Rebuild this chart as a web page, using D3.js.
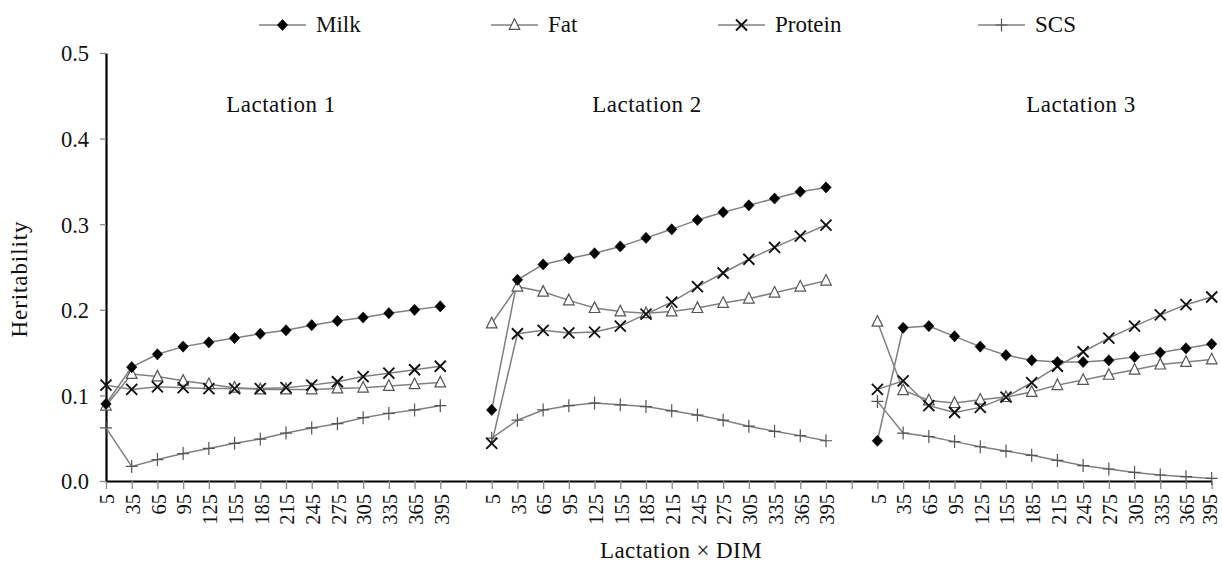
<!DOCTYPE html>
<html>
<head>
<meta charset="utf-8">
<script src="https://cdn.jsdelivr.net/npm/d3@7/dist/d3.min.js"></script>
<style>
  html, body { margin: 0; padding: 0; background: #fff; }
  svg { display: block; }
  text { font-family: "Liberation Serif", "Times New Roman", serif; fill: #111; }
</style>
</head>
<body>
<svg id="chart" width="1222" height="565"></svg>
<script>
// ---------------- data ----------------
const lactations = ["Lactation 1", "Lactation 2", "Lactation 3"];
const dims = [5, 35, 65, 95, 125, 155, 185, 215, 245, 275, 305, 335, 365, 395];
const seriesNames = ["Milk", "Fat", "Protein", "SCS"];
const yTicks = [0, 0.1, 0.2, 0.3, 0.4, 0.5];

const milk1 = [0.090, 0.133, 0.148, 0.157, 0.162, 0.167, 0.172, 0.176, 0.182, 0.187, 0.191, 0.196, 0.200, 0.204];
const milk2 = [0.083, 0.235, 0.253, 0.260, 0.266, 0.274, 0.284, 0.294, 0.305, 0.314, 0.322, 0.330, 0.338, 0.343];
const milk3 = [0.047, 0.179, 0.181, 0.169, 0.157, 0.147, 0.141, 0.139, 0.139, 0.141, 0.145, 0.150, 0.155, 0.160];

const fat1 = [0.088, 0.125, 0.122, 0.117, 0.113, 0.109, 0.107, 0.107, 0.107, 0.108, 0.109, 0.111, 0.113, 0.115];
const fat2 = [0.184, 0.227, 0.221, 0.211, 0.202, 0.198, 0.196, 0.198, 0.202, 0.208, 0.213, 0.220, 0.227, 0.234];
const fat3 = [0.186, 0.106, 0.094, 0.091, 0.095, 0.098, 0.104, 0.112, 0.118, 0.124, 0.130, 0.136, 0.139, 0.142];

const protein1 = [0.112, 0.107, 0.110, 0.109, 0.108, 0.108, 0.108, 0.109, 0.112, 0.116, 0.122, 0.126, 0.130, 0.134];
const protein2 = [0.044, 0.172, 0.176, 0.173, 0.174, 0.181, 0.195, 0.209, 0.227, 0.243, 0.259, 0.273, 0.286, 0.299];
const protein3 = [0.107, 0.117, 0.088, 0.080, 0.086, 0.098, 0.115, 0.134, 0.151, 0.167, 0.181, 0.194, 0.206, 0.215];

const scs1 = [0.062, 0.017, 0.025, 0.032, 0.038, 0.044, 0.049, 0.056, 0.062, 0.067, 0.074, 0.079, 0.083, 0.088];
const scs2 = [0.050, 0.071, 0.083, 0.088, 0.091, 0.089, 0.087, 0.082, 0.077, 0.071, 0.064, 0.058, 0.053, 0.047];
const scs3 = [0.093, 0.056, 0.052, 0.046, 0.040, 0.035, 0.030, 0.024, 0.018, 0.014, 0.010, 0.007, 0.005, 0.003];

const seriesValues = {
  Milk: [milk1, milk2, milk3],
  Fat: [fat1, fat2, fat3],
  Protein: [protein1, protein2, protein3],
  SCS: [scs1, scs2, scs3]
};

// ---------------- layout ----------------
const svg = d3.select("#chart");
const X0 = 106, X1 = 1211.7, Y0 = 481, Y1 = 53;

// category keys: 14 per lactation, with one empty slot between lactations
const keys = [];
const keyLabel = {};
lactations.forEach((lac, li) => {
  if (li > 0) { const g = "gap" + li; keys.push(g); keyLabel[g] = ""; }
  dims.forEach(d => { const k = li + "-" + d; keys.push(k); keyLabel[k] = String(d); });
});
const lastKey = keys[keys.length - 1];

const x = d3.scalePoint().domain(keys).range([X0, X1]);
const y = d3.scaleLinear().domain([0, 0.5]).range([Y0, Y1]);

// ---------------- axes ----------------
const xAxis = svg.append("g")
  .attr("transform", `translate(0,${Y0})`)
  .call(d3.axisBottom(x).tickSize(8).tickSizeOuter(0).tickFormat(k => keyLabel[k]));
xAxis.select(".domain").attr("stroke", "#000").attr("stroke-width", 2.2);
xAxis.selectAll(".tick line").attr("stroke", "#8a8a8a").attr("stroke-width", 1.3);
xAxis.selectAll(".tick text")
  .attr("font-size", 20.5)
  .attr("font-family", "Liberation Serif, serif")
  .attr("fill", "#111")
  .attr("transform", "rotate(-90)")
  .attr("text-anchor", "end")
  .attr("x", -13)
  .attr("y", 0)
  .attr("dy", k => k === lastKey ? "4.5px" : "0.38em");

const yAxis = svg.append("g")
  .attr("transform", `translate(${X0},0)`)
  .call(d3.axisLeft(y).tickValues(yTicks).tickSize(6).tickSizeOuter(0).tickFormat(d3.format(".1f")));
yAxis.select(".domain").attr("stroke", "#000").attr("stroke-width", 2.2);
yAxis.selectAll(".tick line").attr("stroke", "#8a8a8a").attr("stroke-width", 1.3);
yAxis.selectAll(".tick text")
  .attr("font-size", 22.5)
  .attr("font-family", "Liberation Serif, serif")
  .attr("fill", "#111")
  .attr("x", -17)
  .attr("dy", "0.35em");

// axis titles
svg.append("text")
  .attr("transform", `translate(27,279) rotate(-90)`)
  .attr("text-anchor", "middle")
  .attr("font-size", 23)
  .attr("letter-spacing", 0.9)
  .text("Heritability");

svg.append("text")
  .attr("x", 681).attr("y", 558)
  .attr("text-anchor", "middle")
  .attr("font-size", 23)
  .attr("letter-spacing", 0.4)
  .text("Lactation × DIM");

// panel labels
const panelLabelX = [281, 647, 1081];
lactations.forEach((lac, li) => {
  svg.append("text")
    .attr("x", panelLabelX[li]).attr("y", 112)
    .attr("text-anchor", "middle")
    .attr("font-size", 23)
    .attr("letter-spacing", 0.5)
    .text(lac);
});

// ---------------- markers ----------------
const markerDraw = {
  Milk: (g) => g.append("path").attr("d", "M0,-5.6L5.2,0L0,5.6L-5.2,0Z").attr("fill", "#000").attr("stroke", "#000").attr("stroke-width", 0.6),
  Fat: (g) => g.append("path").attr("d", "M0,-6.2L5.3,4.4L-5.3,4.4Z").attr("fill", "#fff").attr("stroke", "#555").attr("stroke-width", 1.2),
  Protein: (g) => g.append("path").attr("d", "M-5.5,-5.5L5.5,5.5M-5.5,5.5L5.5,-5.5").attr("fill", "none").attr("stroke", "#111").attr("stroke-width", 1.9),
  SCS: (g) => g.append("path").attr("d", "M-6,0L6,0M0,-6.5L0,6.5").attr("fill", "none").attr("stroke", "#555").attr("stroke-width", 1.2)
};

const line = d3.line().x(d => x(d.k)).y(d => y(d.v));
const lineColor = "#808080";

// lines
seriesNames.forEach(name => {
  seriesValues[name].forEach((vals, li) => {
    const pts = vals.map((v, i) => ({ k: li + "-" + dims[i], v }));
    svg.append("path")
      .datum(pts)
      .attr("d", line)
      .attr("fill", "none")
      .attr("stroke", lineColor)
      .attr("stroke-width", 1.5);
  });
});

// markers (draw order for overlap)
["Fat", "SCS", "Protein", "Milk"].forEach(name => {
  seriesValues[name].forEach((vals, li) => {
    vals.forEach((v, i) => {
      const g = svg.append("g").attr("transform", `translate(${x(li + "-" + dims[i])},${y(v)})`);
      markerDraw[name](g);
    });
  });
});

// ---------------- legend ----------------
const legendX = [259, 491, 718, 978];
const legendY = 25;
seriesNames.forEach((name, i) => {
  const lx = legendX[i];
  svg.append("line")
    .attr("x1", lx).attr("x2", lx + 47)
    .attr("y1", legendY).attr("y2", legendY)
    .attr("stroke", lineColor).attr("stroke-width", 1.6);
  const g = svg.append("g").attr("transform", `translate(${lx + 23.5},${legendY})`);
  markerDraw[name](g);
  svg.append("text")
    .attr("x", lx + 57).attr("y", legendY + 7)
    .attr("font-size", 23)
    .text(name);
});
</script>
</body>
</html>
